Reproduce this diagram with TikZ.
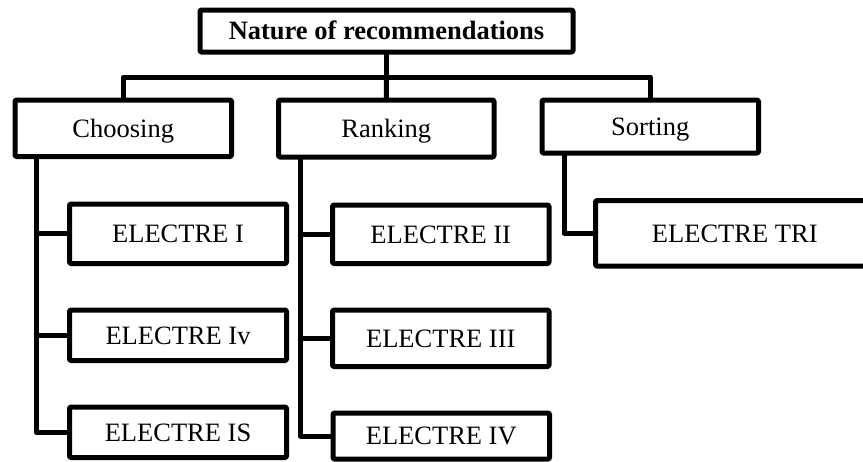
\documentclass[tikz,border=0pt]{standalone}
\usepackage{fontspec}
\setmainfont{Liberation Serif}
\begin{document}
\begin{tikzpicture}[x=1pt,y=-1pt,line join=round,
    box/.style={draw,line width=5pt,rectangle,rounded corners=1.2pt,inner sep=0pt,outer sep=0pt,
      font=\fontsize{26.5}{30}\selectfont,text height=17.5pt,text depth=0pt,align=center},
    title/.style={box,font=\fontsize{26.5}{30}\selectfont\bfseries,text height=16pt},
    link/.style={draw,line width=5pt,line join=round}]
  \useasboundingbox (0,0) rectangle (863,461);
  \clip (0,0) rectangle (863,461);

  % root
  \node[title,minimum width=373pt,minimum height=42pt] (root) at (386.5,31) {Nature of recommendations};

  % second level
  \node[box,minimum width=216.5pt,minimum height=56.5pt] (choose) at (123.25,128.25) {Choosing};
  \node[box,minimum width=215.5pt,minimum height=57pt] (rank) at (386.25,128.5) {Ranking};
  \node[box,minimum width=216.5pt,minimum height=53pt] (sort) at (650.25,126.5) {Sorting};

  % methods under Choosing
  \node[box,minimum width=217pt,minimum height=59.5pt] (e1) at (178,233.75) {ELECTRE I};
  \node[box,minimum width=217pt,minimum height=50.5pt] (e1v) at (178,335.25) {ELECTRE Iv};
  \node[box,minimum width=217pt,minimum height=50.5pt] (e1s) at (178,432.25) {ELECTRE IS};

  % methods under Ranking
  \node[box,minimum width=216.5pt,minimum height=58.5pt] (e2) at (440.75,234.25) {ELECTRE II};
  \node[box,minimum width=216.5pt,minimum height=56.5pt] (e3) at (440.75,338.25) {ELECTRE III};
  \node[box,minimum width=216.5pt,minimum height=46pt] (e4) at (441.25,436) {ELECTRE IV};

  % method under Sorting
  \node[box,minimum width=278.5pt,minimum height=65.5pt] (etri) at (734.75,233.25) {ELECTRE TRI};

  % bus between root and second level
  \coordinate (bus) at (386.5,77);
  \draw[link] (root.south) -- (bus);
  \draw[link] (choose.north) |- (bus) -| (sort.north);
  \draw[link] (bus) -- (rank.north);

  % spines
  \coordinate (cs) at (36.5,156.5);
  \coordinate (rs) at (300.5,157);
  \coordinate (ss) at (564,153);
  \draw[link] (cs) |- (e1s.west);
  \draw[link] (cs |- e1.west) -- (e1.west);
  \draw[link] (cs |- e1v.west) -- (e1v.west);
  \draw[link] (rs) |- (e4.west);
  \draw[link] (rs |- e2.west) -- (e2.west);
  \draw[link] (rs |- e3.west) -- (e3.west);
  \draw[link] (ss) |- (etri.west);
\end{tikzpicture}
\end{document}
